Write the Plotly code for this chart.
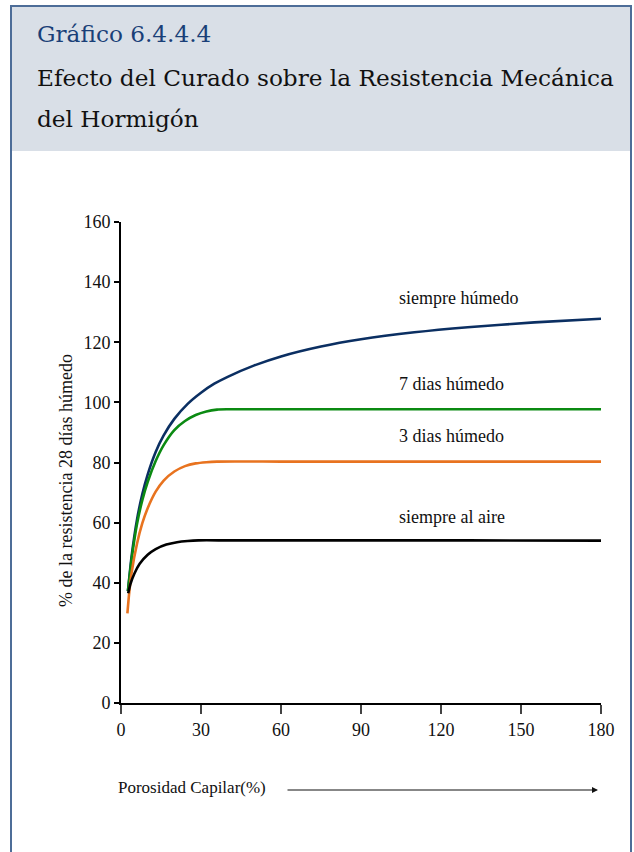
import plotly.graph_objects as go

# ---- data ----
x_siempre_humedo = [2.6, 4, 6, 8, 10, 13, 16, 20, 25, 30, 35, 40, 50, 60, 75, 90, 110, 130, 155, 180]
y_siempre_humedo = [37.2, 49, 61, 69.5, 76, 83.5, 89, 94.5, 99.5, 103.2, 106.2, 108.5, 112.3, 115.3, 118.6, 121, 123.3, 125, 126.6, 127.8]

x_7dias = [2.6, 4, 6, 8, 10, 13, 16, 20, 24, 28, 32, 36, 40, 60, 100, 140, 180]
y_7dias = [37.2, 48, 59.5, 67.5, 73.5, 80.5, 85.8, 90.8, 93.8, 95.8, 97.0, 97.6, 97.7, 97.7, 97.7, 97.7, 97.7]

x_3dias = [2.4, 3, 4, 6, 8, 10, 13, 16, 20, 24, 28, 32, 36, 60, 100, 140, 180]
y_3dias = [29.8, 36, 43.5, 53, 59.8, 64.8, 70.3, 74.0, 77.0, 78.8, 79.7, 80.1, 80.3, 80.3, 80.3, 80.3, 80.3]

x_aire = [2.7, 3.5, 5, 7, 10, 13, 17, 21, 25, 29, 40, 80, 130, 180]
y_aire = [36.5, 39.5, 43, 46.3, 49.3, 51.2, 52.7, 53.5, 53.9, 54.1, 54.1, 54.1, 54.1, 54.0]

series_names = ["siempre húmedo", "7 dias húmedo", "3 dias húmedo", "siempre al aire"]
series_colors = ["#0b2f62", "#0b8a12", "#e8731f", "#000000"]
label_y = [134.7, 106, 88.8, 61.9]
label_x = 103.5

x_ticks = [0, 30, 60, 90, 120, 150, 180]
y_ticks = [0, 20, 40, 60, 80, 100, 120, 140, 160]

W, H = 634, 852
L, R, T, B = 121, 33, 222, 149
PW, PH = W - L - R, H - T - B

def px(v):
    return (v - L) / PW

def py(v):
    return (H - B - v) / PH

SERIF = "Liberation Serif"
HEAD = "DejaVu Serif"

fig = go.Figure()
xs = [x_siempre_humedo, x_7dias, x_3dias, x_aire]
ys = [y_siempre_humedo, y_7dias, y_3dias, y_aire]
for name, xv, yv, c in zip(series_names, xs, ys, series_colors):
    fig.add_trace(go.Scatter(x=xv, y=yv, mode="lines", name=name,
                             line=dict(color=c, width=2.6, shape="spline", smoothing=0.6),
                             hoverinfo="skip", showlegend=False))

annotations = []
for name, ly in zip(series_names, label_y):
    annotations.append(dict(x=label_x, y=ly, xref="x", yref="y", text=name, showarrow=False,
                            xanchor="left", yanchor="middle",
                            font=dict(family=SERIF, size=18, color="#111")))

# y axis title
annotations.append(dict(x=px(66), y=py(481), xref="paper", yref="paper",
                        text="% de la resistencia 28 días húmedo", textangle=-90,
                        showarrow=False, xanchor="center", yanchor="middle",
                        font=dict(family=SERIF, size=18, color="#111")))
# x axis title and arrow
annotations.append(dict(x=px(116), y=py(787), xref="paper", yref="paper",
                        text="Porosidad Capilar(%)", showarrow=False,
                        xanchor="left", yanchor="middle",
                        font=dict(family=SERIF, size=17, color="#111")))
annotations.append(dict(x=px(598), y=py(790), xref="paper", yref="paper", text="",
                        showarrow=True, ax=-312, ay=0, arrowhead=2, arrowsize=1,
                        arrowwidth=1.2, arrowcolor="#111"))
# header texts
annotations.append(dict(x=px(35), y=py(33), xref="paper", yref="paper",
                        text="Gráfico 6.4.4.4", showarrow=False, xanchor="left", yanchor="middle",
                        font=dict(family=HEAD, size=23.2, color="#1a3f78")))
annotations.append(dict(x=px(35), y=py(77), xref="paper", yref="paper",
                        text="Efecto del Curado sobre la Resistencia Mecánica", showarrow=False,
                        xanchor="left", yanchor="middle",
                        font=dict(family=HEAD, size=23.2, color="#111")))
annotations.append(dict(x=px(35), y=py(119), xref="paper", yref="paper",
                        text="del Hormigón", showarrow=False, xanchor="left", yanchor="middle",
                        font=dict(family=HEAD, size=23.2, color="#111")))

border = "#4d6d98"
shapes = [
    dict(type="rect", xref="paper", yref="paper", x0=px(11), x1=px(631), y0=py(151), y1=py(6),
         fillcolor="#d9dfe7", line=dict(width=0), layer="below"),
    dict(type="line", xref="paper", yref="paper", x0=px(11), x1=px(11), y0=py(5.5), y1=py(860),
         line=dict(color=border, width=2)),
    dict(type="line", xref="paper", yref="paper", x0=px(631), x1=px(631), y0=py(5.5), y1=py(860),
         line=dict(color=border, width=2)),
    dict(type="line", xref="paper", yref="paper", x0=px(10), x1=px(632), y0=py(6), y1=py(6),
         line=dict(color=border, width=2)),
]

fig.update_layout(
    width=W, height=H,
    margin=dict(l=L, r=R, t=T, b=B),
    paper_bgcolor="white", plot_bgcolor="white",
    annotations=annotations, shapes=shapes,
    xaxis=dict(range=[0, 180], tickvals=x_ticks, showgrid=False, zeroline=False,
               showline=True, linecolor="#000", linewidth=2, ticks="outside", ticklen=9,
               tickcolor="#444", tickwidth=1.5,
               tickfont=dict(family=SERIF, size=18, color="#111")),
    yaxis=dict(range=[0, 160], tickvals=y_ticks, showgrid=False, zeroline=False,
               showline=True, linecolor="#000", linewidth=2, ticks="outside", ticklen=5,
               tickcolor="#000", tickwidth=1.5,
               tickfont=dict(family=SERIF, size=18, color="#111")),
)

fig.write_html("out.html", config={"displayModeBar": False},
               post_script="document.body.style.margin='0';document.body.style.padding='0';")
